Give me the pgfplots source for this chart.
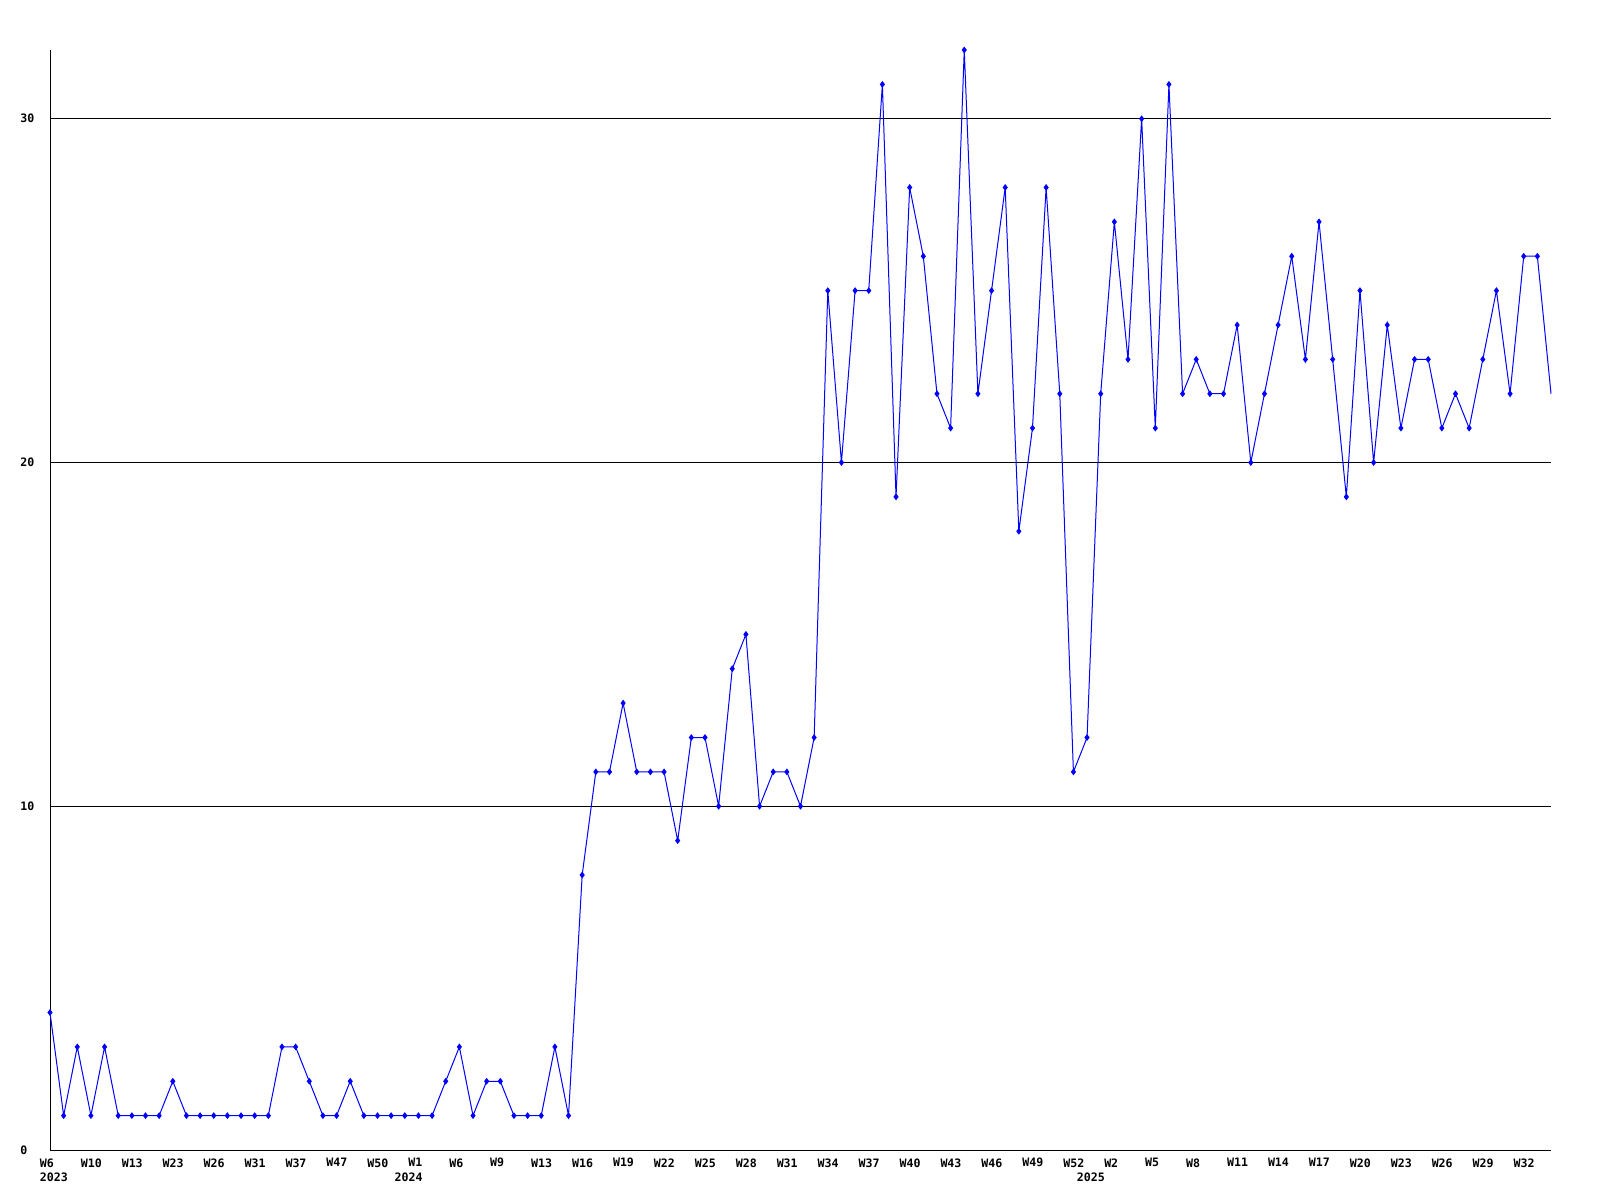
\documentclass[border=0pt]{standalone}
\usepackage{fontspec}
\setmonofont{DejaVu Sans Mono}
\usepackage{pgfplots}
\usepackage{pgfplotstable}
\pgfplotsset{compat=1.18}
\definecolor{lineblue}{RGB}{0,0,255}
\pgfplotstableread[header=false]{
4
1
3
1
3
1
1
1
1
2
1
1
1
1
1
1
1
3
3
2
1
1
2
1
1
1
1
1
1
2
3
1
2
2
1
1
1
3
1
8
11
11
13
11
11
11
9
12
12
10
14
15
10
11
11
10
12
25
20
25
25
31
19
28
26
22
21
32
22
25
28
18
21
28
22
11
12
22
27
23
30
21
31
22
23
22
22
24
20
22
24
26
23
27
23
19
25
20
24
21
23
23
21
22
21
23
25
22
26
26
22
}\datatable
\begin{document}
\begin{tikzpicture}[font=\ttfamily\bfseries\fontsize{5.8}{7}\selectfont]
\path[use as bounding box] (0,0) rectangle (800pt,600pt);
\begin{axis}[
  at={(25pt,25pt)}, anchor=south west,
  scale only axis, width=750.5pt, height=550pt,
  xmin=0, xmax=110, ymin=0, ymax=32,
  clip=false,
  axis lines=left,
  axis line style={-, line width=0.5pt, black},
  major tick length=0pt,
  /pgf/number format/assume math mode=true,
  ymajorgrids, grid style={black, line width=0.5pt},
  ytick={0,10,20,30},
  yticklabel style={anchor=west, inner sep=0pt, xshift=-15pt, font=\ttfamily\bfseries\fontsize{5.8}{7}\selectfont},
  xtick={0,3,...,108},
  xticklabels={W6,W10,W13,W23,W26,W31,W37,W47,W50,W1,W6,W9,W13,W16,W19,W22,W25,W28,W31,W34,W37,W40,W43,W46,W49,W52,W2,W5,W8,W11,W14,W17,W20,W23,W26,W29,W32},
  xticklabel style={anchor=north west, inner sep=0pt, xshift=-5.25pt, yshift=-4pt},
]
\addplot[lineblue, line width=0.5pt, mark=diamond*, mark size=1.3pt, mark indices={1,...,110}, mark options={solid, fill=lineblue, draw=lineblue}]
  table[x expr=\coordindex, y index=0] {\datatable};
\node[anchor=north west, inner sep=0pt, xshift=-5.25pt, yshift=-11pt] at (axis cs:0,0) {2023};
\node[anchor=north west, inner sep=0pt, xshift=-5.25pt, yshift=-11pt] at (axis cs:26,0) {2024};
\node[anchor=north west, inner sep=0pt, xshift=-5.25pt, yshift=-11pt] at (axis cs:76,0) {2025};
\end{axis}
\end{tikzpicture}
\end{document}
